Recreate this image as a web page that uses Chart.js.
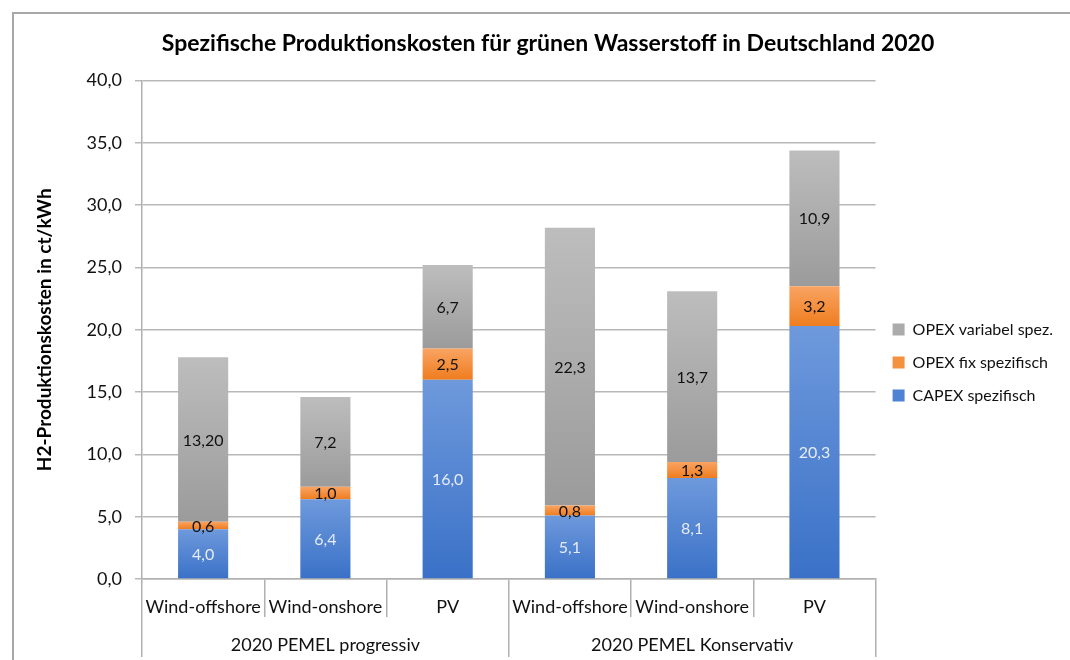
<!DOCTYPE html>
<html lang="de">
<head>
<meta charset="UTF-8">
<title>Spezifische Produktionskosten</title>
<script src="https://cdn.jsdelivr.net/npm/chart.js@4.4.1/dist/chart.umd.min.js"></script>
<style>
  body { margin: 0; background: #fff; overflow: hidden; }
  #frame { position: absolute; left: 12px; top: 12px; width: 1200px; height: 800px;
           border-top: 2px solid #a8a8a8; border-left: 2px solid #a8a8a8; }
  #wrap { position: absolute; left: 0; top: 0; width: 1070px; height: 660px; }
</style>
</head>
<body>
<div id="frame"></div>
<div id="wrap"><canvas id="h2chart" width="1070" height="660"></canvas></div>
<script>
// Daten aus der Grafik
const categories = ["Wind-offshore", "Wind-onshore", "PV", "Wind-offshore", "Wind-onshore", "PV"];
const groups = ["2020 PEMEL progressiv", "2020 PEMEL Konservativ"];
const capex = [4.0, 6.4, 16.0, 5.1, 8.1, 20.3];
const opexFix = [0.6, 1.0, 2.5, 0.8, 1.3, 3.2];
const opexVar = [13.2, 7.2, 6.7, 22.3, 13.7, 10.9];
const capexLabels = ["4,0", "6,4", "16,0", "5,1", "8,1", "20,3"];
const opexFixLabels = ["0,6", "1,0", "2,5", "0,8", "1,3", "3,2"];
const opexVarLabels = ["13,20", "7,2", "6,7", "22,3", "13,7", "10,9"];
const yTicks = [0, 5, 10, 15, 20, 25, 30, 35, 40];

const FONT = "Lato, 'Noto Sans', sans-serif";
const series = [capex, opexFix, opexVar];

// Verlauf pro Segment (oben heller, unten dunkler)
function grad(top, bottom, solid) {
  return (ctx) => {
    const chart = ctx.chart;
    const y = chart.scales.y;
    if (!chart.chartArea || !y || ctx.dataIndex === undefined) return solid;
    const i = ctx.dataIndex, d = ctx.datasetIndex;
    let base = 0;
    for (let k = 0; k < d; k++) base += series[k][i];
    const y0 = y.getPixelForValue(base), y1 = y.getPixelForValue(base + series[d][i]);
    if (!isFinite(y0) || !isFinite(y1) || y0 === y1) return solid;
    const g = chart.ctx.createLinearGradient(0, y1, 0, y0);
    g.addColorStop(0, top);
    g.addColorStop(1, bottom);
    return g;
  };
}

// Werte in die Balken schreiben
const valueLabels = {
  id: "valueLabels",
  afterDatasetsDraw(chart) {
    const ctx = chart.ctx;
    ctx.save();
    ctx.font = "16px " + FONT;
    ctx.textAlign = "center";
    ctx.textBaseline = "middle";
    chart.data.datasets.forEach((ds, d) => {
      chart.getDatasetMeta(d).data.forEach((bar, i) => {
        const p = bar.getProps(["x", "y", "base"], true);
        ctx.fillStyle = ds.labelColor;
        ctx.fillText(ds.valueText[i], p.x, (p.y + p.base) / 2 + 1);
      });
    });
    ctx.restore();
  }
};

new Chart(document.getElementById("h2chart"), {
  type: "bar",
  data: {
    labels: categories,
    datasets: [
      { label: "CAPEX spezifisch", data: capex, valueText: capexLabels, labelColor: "#e6ecf7",
        legendColor: "#4f82d3", backgroundColor: grad("#6e99dc", "#3a71c7", "#4f82d3") },
      { label: "OPEX fix spezifisch", data: opexFix, valueText: opexFixLabels, labelColor: "#111",
        legendColor: "#f3913f", backgroundColor: grad("#f9a463", "#ef7d1f", "#f3913f") },
      { label: "OPEX variabel spez.", data: opexVar, valueText: opexVarLabels, labelColor: "#111",
        legendColor: "#ababab", backgroundColor: grad("#bdbdbd", "#9b9b9b", "#ababab") }
    ]
  },
  options: {
    responsive: false,
    animation: false,
    events: [],
    datasets: { bar: { barPercentage: 0.82, categoryPercentage: 0.5 } },
    layout: { padding: { left: 33, top: 30, right: 7, bottom: 0 } },
    plugins: {
      title: {
        display: true,
        text: "Spezifische Produktionskosten für grünen Wasserstoff in Deutschland 2020",
        color: "#000",
        font: { family: FONT, size: 23, weight: "bold" },
        padding: { top: 0, bottom: 23 }
      },
      legend: {
        position: "right",
        reverse: true,
        // leerer Titel schiebt die Einträge etwas nach unten
        title: { display: true, text: " ", font: { family: FONT, size: 14 }, padding: 9 },
        labels: {
          color: "#111",
          font: { family: FONT, size: 16 },
          boxWidth: 12,
          boxHeight: 12,
          padding: 17,
          generateLabels(chart) {
            return chart.data.datasets.map((ds, i) => ({
              text: ds.label, fillStyle: ds.legendColor, strokeStyle: ds.legendColor,
              lineWidth: 0, datasetIndex: i, hidden: false, fontColor: "#111"
            }));
          }
        }
      },
      tooltip: { enabled: false }
    },
    scales: {
      y: {
        stacked: true,
        min: 0, max: 40,
        afterBuildTicks(scale) { scale.ticks = yTicks.map(v => ({ value: v })); },
        afterFit(scale) { scale.width = 109; },
        ticks: {
          color: "#111",
          font: { family: FONT, size: 18 },
          padding: 13,
          callback: v => v.toFixed(1).replace(".", ",")
        },
        grid: { color: "#b8b8b8", lineWidth: 1.5, tickLength: 7 },
        border: { color: "#b0b0b0", width: 1.5 },
        title: {
          display: true,
          text: "H2-Produktionskosten in ct/kWh",
          color: "#000",
          font: { family: FONT, size: 19, weight: "bold" },
          padding: { top: 0, bottom: 4 }
        }
      },
      x: {
        stacked: true,
        offset: true,
        afterFit(scale) { scale.height = 38; },
        ticks: {
          color: "#111",
          font: { family: FONT, size: 18 },
          autoSkip: false, maxRotation: 0,
          padding: -21
        },
        grid: { offset: true, drawOnChartArea: false, color: "#b0b0b0", lineWidth: 1.5, tickLength: 38 },
        border: { color: "#b0b0b0", width: 1.5 }
      },
      x2: {
        type: "category",
        position: "bottom",
        labels: groups,
        offset: true,
        afterFit(scale) { scale.height = 43; },
        ticks: {
          color: "#111",
          font: { family: FONT, size: 18 },
          autoSkip: false, maxRotation: 0,
          padding: -23
        },
        grid: { offset: true, drawOnChartArea: false, color: "#b0b0b0", lineWidth: 1.5, tickLength: 40 },
        border: { display: false }
      }
    }
  },
  plugins: [valueLabels]
});
</script>
</body>
</html>
